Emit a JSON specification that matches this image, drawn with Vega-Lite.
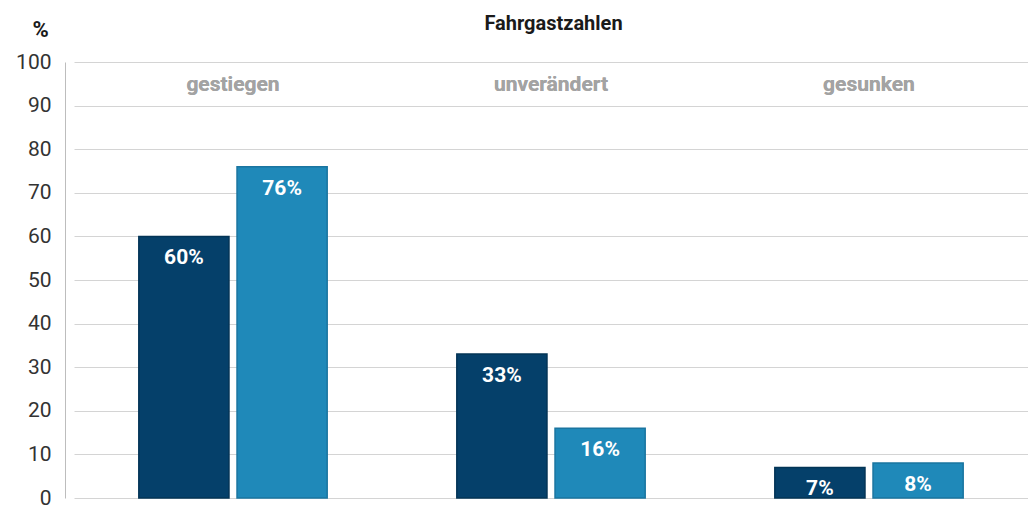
{
  "$schema": "https://vega.github.io/schema/vega-lite/v6.json",
  "width": 963,
  "height": 436,
  "autosize": "none",
  "padding": {"left": 65, "top": 62, "right": 0, "bottom": 15},
  "background": "white",
  "config": {"view": {"stroke": null}, "font": "Roboto"},
  "title": {"text": "Fahrgastzahlen", "fontSize": 20, "fontWeight": "bold", "color": "#1a1a1a", "font": "Roboto", "offset": -16, "dx": 7, "anchor": "middle"},
  "data": {"values": [
    {"kategorie": "gestiegen", "serie": "A", "wert": 60},
    {"kategorie": "gestiegen", "serie": "B", "wert": 76},
    {"kategorie": "unverändert", "serie": "A", "wert": 33},
    {"kategorie": "unverändert", "serie": "B", "wert": 16},
    {"kategorie": "gesunken", "serie": "A", "wert": 7},
    {"kategorie": "gesunken", "serie": "B", "wert": 8}
  ]},
  "encoding": {
    "x": {"field": "kategorie", "type": "nominal", "sort": ["gestiegen", "unverändert", "gesunken"],
          "scale": {"range": [9, 963], "paddingInner": 0, "paddingOuter": 0}, "axis": null},
    "y": {"field": "wert", "type": "quantitative",
          "scale": {"domain": [0, 100], "nice": false},
          "axis": {"values": [0,10,20,30,40,50,60,70,80,90,100], "grid": true, "gridColor": "#d4d4d4", "gridWidth": 1,
                   "domainColor": "#bdbdbd", "ticks": false, "labelFontSize": 21, "labelColor": "#333333",
                   "labelPadding": 14, "labelDy": 4, "labelFont": "Roboto",
                   "title": "%", "titleAngle": 0, "titleFontSize": 22, "titleFontWeight": "bold", "titleColor": "#1a1a1a",
                   "titleX": -25, "titleY": -33, "titleAlign": "center", "titleBaseline": "middle"}}
  },
  "layer": [
    {
      "mark": {"type": "bar", "strokeWidth": 1.5},
      "encoding": {
        "xOffset": {"field": "serie", "type": "nominal", "scale": {"paddingInner": 0.082, "paddingOuter": 0.66}},
        "color": {"field": "serie", "type": "nominal", "scale": {"domain": ["A", "B"], "range": ["#05406a", "#1f89b9"]}, "legend": null},
        "stroke": {"field": "serie", "type": "nominal", "scale": {"domain": ["A", "B"], "range": ["#033456", "#1a75a0"]}, "legend": null}
      }
    },
    {
      "mark": {"type": "text", "color": "white", "fontSize": 21, "fontWeight": "bold", "font": "Roboto", "dy": 22, "baseline": "middle"},
      "transform": [{"calculate": "datum.wert + '%'", "as": "beschriftung"}],
      "encoding": {
        "xOffset": {"field": "serie", "type": "nominal", "scale": {"paddingInner": 0.082, "paddingOuter": 0.66}},
        "text": {"field": "beschriftung", "type": "nominal"}
      }
    },
    {
      "mark": {"type": "text", "color": "#a3a3a3", "fontSize": 21, "fontWeight": "bold", "font": "Roboto", "dy": 23, "baseline": "middle"},
      "encoding": {
        "y": {"datum": 100},
        "text": {"field": "kategorie", "type": "nominal"}
      }
    }
  ]
}
